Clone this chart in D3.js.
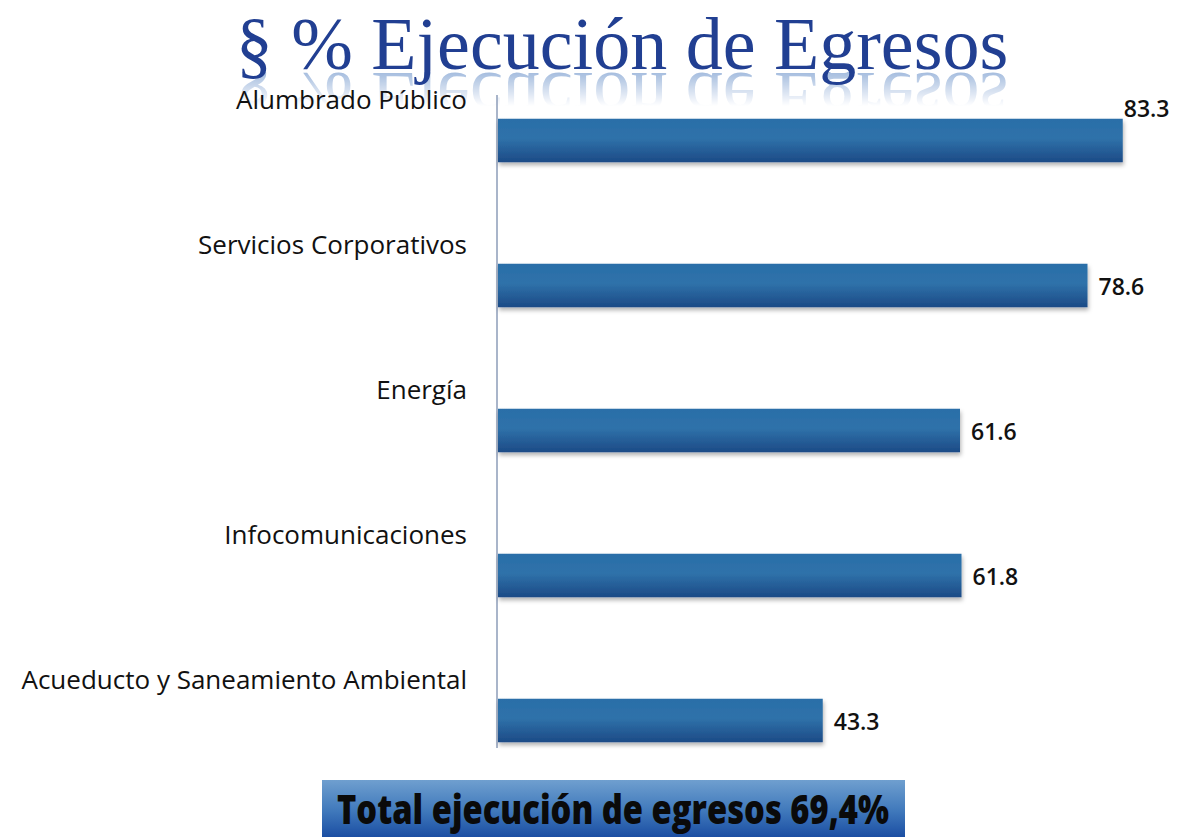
<!DOCTYPE html>
<html>
<head>
<meta charset="utf-8">
<script src="https://cdn.jsdelivr.net/npm/d3@7"></script>
<style>
  body { margin: 0; background: #fff; }
  svg { display: block; }
</style>
</head>
<body>
<div id="chart"></div>
<script>
// Datos del gráfico
const categories = [
    'Alumbrado Público',
    'Servicios Corporativos',
    'Energía',
    'Infocomunicaciones',
    'Acueducto y Saneamiento Ambiental'
];
const values = [83.3, 78.6, 61.6, 61.8, 43.3];
const titleText = '§  % Ejecución de Egresos';
const totalText = 'Total ejecución de egresos 69,4%';

const width = 1192;
const height = 839;
const axisX = 497;

const svg = d3.select('#chart')
    .append('svg')
    .attr('width', width)
    .attr('height', height);

const defs = svg.append('defs');

// gradient for bars (light top, dark bottom)
const barGrad = defs.append('linearGradient')
    .attr('id', 'barGrad')
    .attr('x1', 0).attr('y1', 0).attr('x2', 0).attr('y2', 1);
barGrad.append('stop').attr('offset', '0%').attr('stop-color', '#2a6ea8');
barGrad.append('stop').attr('offset', '45%').attr('stop-color', '#2f72aa');
barGrad.append('stop').attr('offset', '100%').attr('stop-color', '#1c4a86');

const boxGrad = defs.append('linearGradient')
    .attr('id', 'boxGrad')
    .attr('x1', 0).attr('y1', 0).attr('x2', 0).attr('y2', 1);
boxGrad.append('stop').attr('offset', '0%').attr('stop-color', '#6f9fcf');
boxGrad.append('stop').attr('offset', '55%').attr('stop-color', '#3f78bb');
boxGrad.append('stop').attr('offset', '100%').attr('stop-color', '#1b4ea3');

const fadeGrad = defs.append('linearGradient')
    .attr('id', 'fadeGrad')
    .attr('x1', 0).attr('y1', 0).attr('x2', 0).attr('y2', 1);
fadeGrad.append('stop').attr('offset', '0%').attr('stop-color', '#fff').attr('stop-opacity', 0.7);
fadeGrad.append('stop').attr('offset', '100%').attr('stop-color', '#fff').attr('stop-opacity', 0);
defs.append('mask')
    .attr('id', 'fadeMask')
    .attr('maskUnits', 'userSpaceOnUse')
    .attr('x', 0).attr('y', 0).attr('width', width).attr('height', height)
    .append('rect')
    .attr('x', 0).attr('y', 72).attr('width', width).attr('height', 34)
    .attr('fill', 'url(#fadeGrad)');

const shadow = defs.append('filter').attr('id', 'shadow')
    .attr('x', '-5%').attr('y', '-20%').attr('width', '110%').attr('height', '160%');
shadow.append('feDropShadow')
    .attr('dx', 1).attr('dy', 3).attr('stdDeviation', 2)
    .attr('flood-color', '#000').attr('flood-opacity', 0.3);

// Title with reflection
const titleX = 622, titleBase = 69;
svg.append('g')
    .attr('mask', 'url(#fadeMask)')
    .append('text')
    .attr('transform', `translate(${titleX}, ${titleBase + 4}) scale(1,-1)`)
    .attr('text-anchor', 'middle')
    .attr('font-family', 'Liberation Serif, DejaVu Serif, serif')
    .attr('font-size', 74)
    .attr('fill', '#7d9fd0')
    .text(titleText);
svg.append('text')
    .attr('x', titleX)
    .attr('y', titleBase)
    .attr('text-anchor', 'middle')
    .attr('font-family', 'Liberation Serif, DejaVu Serif, serif')
    .attr('font-size', 74)
    .attr('fill', '#213f92')
    .text(titleText);

// Scales
const x = d3.scaleLinear()
    .domain([0, 100])
    .range([axisX, axisX + 750]);

const y = d3.scaleBand()
    .domain(categories)
    .range([68, 793])
    .paddingInner(0.7)
    .paddingOuter(0.35);

// axis line
svg.append('line')
    .attr('x1', axisX).attr('x2', axisX)
    .attr('y1', 95).attr('y2', 748)
    .attr('stroke', '#8d9cb8')
    .attr('stroke-width', 1.5);

// bars
svg.selectAll('rect.bar')
    .data(values)
    .enter()
    .append('rect')
    .attr('class', 'bar')
    .attr('x', x(0) + 1)
    .attr('y', (d, i) => y(categories[i]))
    .attr('width', d => x(d) - x(0))
    .attr('height', y.bandwidth())
    .attr('fill', 'url(#barGrad)')
    .attr('filter', 'url(#shadow)');

// category labels above the bars
svg.selectAll('text.cat')
    .data(categories)
    .enter()
    .append('text')
    .attr('class', 'cat')
    .attr('x', 467)
    .attr('y', d => y(d) - 10)
    .attr('text-anchor', 'end')
    .attr('font-family', 'Open Sans, sans-serif')
    .attr('font-weight', 500)
    .attr('font-size', 26)
    .attr('fill', '#111')
    .text(d => d);

// value labels
svg.selectAll('text.val')
    .data(values)
    .enter()
    .append('text')
    .attr('class', 'val')
    .attr('x', d => x(d) > 1100 ? x(d) + 2 : x(d) + 12)
    .attr('y', (d, i) => x(d) > 1100 ? y(categories[i]) - 2 : y(categories[i]) + y.bandwidth() / 2 + 9)
    .attr('font-family', 'Open Sans, sans-serif')
    .attr('font-weight', 600)
    .attr('font-size', 23)
    .attr('fill', '#111')
    .text(d => d.toFixed(1));

// total box
svg.append('rect')
    .attr('x', 322).attr('y', 780)
    .attr('width', 583).attr('height', 57)
    .attr('fill', 'url(#boxGrad)');
svg.append('text')
    .attr('x', 613)
    .attr('y', 824)
    .attr('text-anchor', 'middle')
    .attr('font-family', 'Open Sans, sans-serif')
    .attr('font-weight', 800)
    .attr('font-size', 40)
    .attr('textLength', 552)
    .attr('lengthAdjust', 'spacingAndGlyphs')
    .attr('fill', '#0a0a0a')
    .text(totalText);
</script>
</body>
</html>
